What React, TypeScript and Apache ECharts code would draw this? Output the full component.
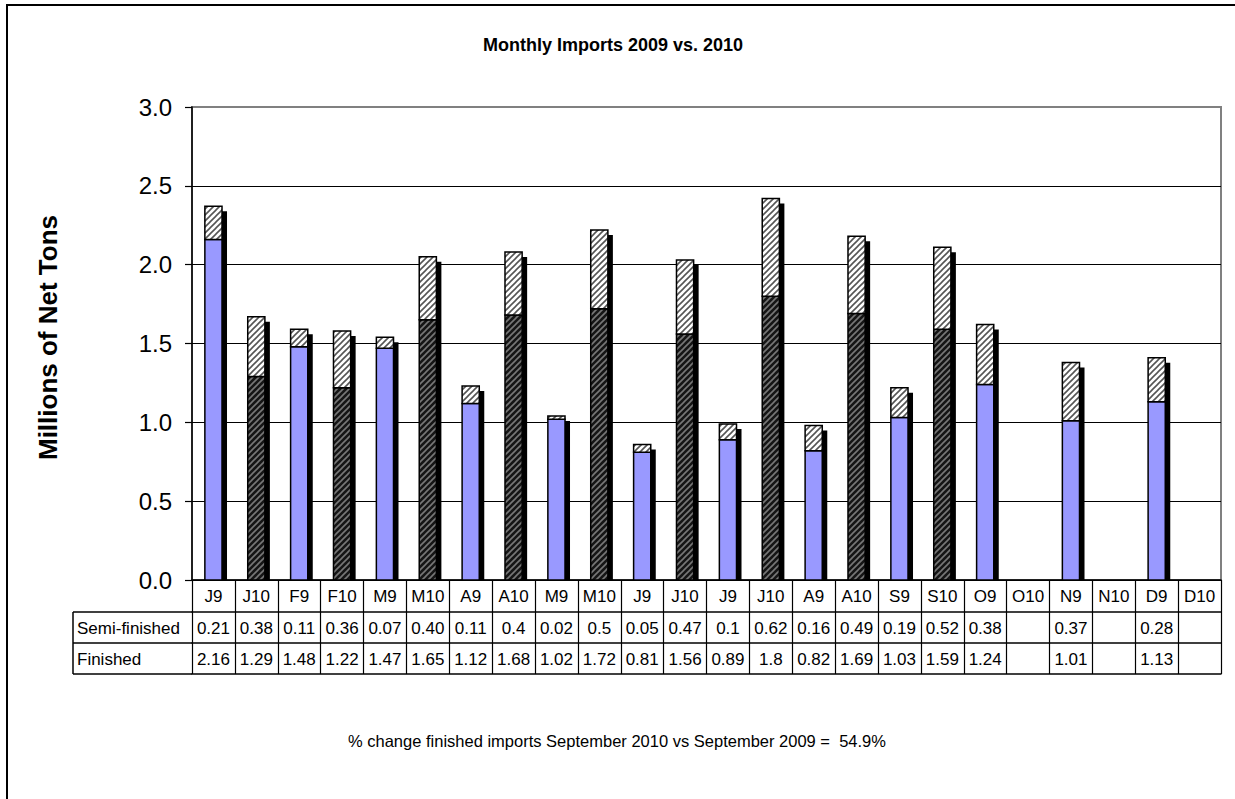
import React, { useEffect, useRef } from "react";
import * as echarts from "echarts";

const categories = ["J9","J10","F9","F10","M9","M10","A9","A10","M9","M10","J9","J10","J9","J10","A9","A10","S9","S10","O9","O10","N9","N10","D9","D10"];
const semiFinished: (number | null)[] = [0.21,0.38,0.11,0.36,0.07,0.40,0.11,0.4,0.02,0.5,0.05,0.47,0.1,0.62,0.16,0.49,0.19,0.52,0.38,null,0.37,null,0.28,null];
const semiLabels = ["0.21","0.38","0.11","0.36","0.07","0.40","0.11","0.4","0.02","0.5","0.05","0.47","0.1","0.62","0.16","0.49","0.19","0.52","0.38","","0.37","","0.28",""];
const finished: (number | null)[] = [2.16,1.29,1.48,1.22,1.47,1.65,1.12,1.68,1.02,1.72,0.81,1.56,0.89,1.8,0.82,1.69,1.03,1.59,1.24,null,1.01,null,1.13,null];
const finishedLabels = ["2.16","1.29","1.48","1.22","1.47","1.65","1.12","1.68","1.02","1.72","0.81","1.56","0.89","1.8","0.82","1.69","1.03","1.59","1.24","","1.01","","1.13",""];
const is2010 = categories.map((c) => (c.endsWith("10") ? 1 : 0));

const FONT = "'Liberation Sans', Arial, sans-serif";

function hatch(bg: string, fg: string) {
  const s = 6;
  const svg = `<svg xmlns="http://www.w3.org/2000/svg" width="${s}" height="${s}"><rect width="${s}" height="${s}" fill="${bg}"/><path d="M-1,${s + 1} L${s + 1},-1 M-1,1 L1,-1 M${s - 1},${s + 1} L${s + 1},${s - 1}" stroke="${fg}" stroke-width="1.6"/></svg>`;
  return {
    image: "data:image/svg+xml;charset=utf-8," + encodeURIComponent(svg),
    repeat: "repeat",
    imageWidth: s,
    imageHeight: s,
  };
}

export default function App() {
  const ref = useRef<HTMLDivElement>(null);
  useEffect(() => {
    if (!ref.current) return;
    const chart = echarts.init(ref.current, null, { renderer: "svg" });
    const semiPattern = hatch("#ffffff", "#555555");
    const darkPattern = hatch("#151515", "#777777");
    const data = categories.map((_, i) => [i, finished[i], semiFinished[i], is2010[i]]);

    const tableAxis = (labels: string[], offset: number, showTick: boolean) => ({
      type: "category",
      gridIndex: 0,
      position: "bottom",
      offset,
      data: labels,
      boundaryGap: true,
      axisLine: { show: true, lineStyle: { color: "#000", width: 1.5 } },
      axisTick: { show: showTick, interval: 0, length: 31, inside: false, lineStyle: { color: "#000", width: 1.2 } },
      axisLabel: { show: showTick, interval: 0, margin: 8, fontSize: 17, color: "#000", fontFamily: FONT },
    });

    chart.setOption({
      animation: false,
      backgroundColor: "#fff",
      title: {
        text: "Monthly Imports 2009 vs. 2010",
        left: 483,
        top: 36,
        padding: 0,
        textStyle: { fontSize: 18, fontWeight: "bold", color: "#000", fontFamily: FONT },
      },
      grid: {
        left: 192,
        top: 107,
        right: 14,
        bottom: 219,
        show: true,
        borderColor: "#808080",
        borderWidth: 2,
        backgroundColor: "transparent",
      },
      xAxis: [
        {
          type: "category",
          gridIndex: 0,
          position: "bottom",
          data: categories,
          boundaryGap: true,
          axisLine: { show: true, lineStyle: { color: "#000", width: 1.5 } },
          axisTick: { show: true, interval: 0, length: 32, inside: false, lineStyle: { color: "#000", width: 1.2 } },
          axisLabel: { interval: 0, margin: 8, fontSize: 17, color: "#000", fontFamily: FONT },
        },
        tableAxis(semiLabels, 32, true),
        tableAxis(finishedLabels, 63, true),
        tableAxis(categories.map(() => ""), 94, false),
      ],
      yAxis: {
        type: "value",
        min: 0,
        max: 3,
        interval: 0.5,
        name: "Millions of Net Tons",
        nameLocation: "middle",
        nameGap: 131,
        nameTextStyle: { fontSize: 26, fontWeight: "bold", color: "#000", fontFamily: FONT, padding: [0, 0, 0, 12] },
        axisLine: { show: true, lineStyle: { color: "#000", width: 1.5 } },
        axisTick: { show: true, length: 7, lineStyle: { color: "#000", width: 1.2 } },
        axisLabel: { margin: 20, fontSize: 24, color: "#000", fontFamily: FONT, formatter: (v: number) => v.toFixed(1) },
        splitLine: { show: true, lineStyle: { color: ["#000", "#000", "#000", "#000", "#000", "#000", "#808080"], width: 1.2 } },
      },
      series: [
        {
          type: "custom",
          xAxisIndex: 0,
          yAxisIndex: 0,
          encode: { x: 0, y: 1 },
          data,
          renderItem: (params: any, api: any) => {
            const i = api.value(0);
            const fin = api.value(1);
            const semi = api.value(2);
            const yr = api.value(3);
            if (fin == null || isNaN(fin)) return null;
            const base = api.coord([i, 0]);
            const pFin = api.coord([i, fin]);
            const pTot = api.coord([i, fin + (isNaN(semi) ? 0 : semi)]);
            const w = api.size([1, 0])[0] * 0.4;
            const x = base[0] - w / 2;
            const off = 5;
            return {
              type: "group",
              children: [
                {
                  type: "rect",
                  shape: { x: x + off, y: pTot[1] + off, width: w, height: Math.max(0, base[1] - pTot[1] - off) },
                  style: { fill: "#000" },
                },
                {
                  type: "rect",
                  shape: { x, y: pFin[1], width: w, height: base[1] - pFin[1] },
                  style: { fill: yr ? (darkPattern as any) : "#9999ff", stroke: "#000", lineWidth: 1.5 },
                },
                {
                  type: "rect",
                  shape: { x, y: pTot[1], width: w, height: pFin[1] - pTot[1] },
                  style: { fill: semiPattern as any, stroke: "#000", lineWidth: 1.5 },
                },
              ],
            };
          },
        },
      ],
      graphic: [
        {
          type: "rect",
          shape: { x: 7, y: 5, width: 1300, height: 900 },
          style: { fill: "none", stroke: "#000", lineWidth: 2 },
          silent: true,
        },
        { type: "line", shape: { x1: 73, y1: 612, x2: 192, y2: 612 }, style: { stroke: "#000", lineWidth: 1.5 } },
        { type: "line", shape: { x1: 73, y1: 643, x2: 192, y2: 643 }, style: { stroke: "#000", lineWidth: 1.5 } },
        { type: "line", shape: { x1: 73, y1: 674, x2: 192, y2: 674 }, style: { stroke: "#000", lineWidth: 1.5 } },
        { type: "line", shape: { x1: 73, y1: 612, x2: 73, y2: 674 }, style: { stroke: "#000", lineWidth: 1.5 } },
        {
          type: "text",
          x: 77,
          y: 628,
          style: { text: "Semi-finished", fontSize: 17, fill: "#000", fontFamily: FONT, verticalAlign: "middle" },
        },
        {
          type: "text",
          x: 77,
          y: 659,
          style: { text: "Finished", fontSize: 17, fill: "#000", fontFamily: FONT, verticalAlign: "middle" },
        },
        {
          type: "text",
          x: 348,
          y: 741,
          style: {
            text: "% change finished imports September 2010 vs September 2009 =  54.9%",
            fontSize: 16.5,
            fill: "#000",
            fontFamily: FONT,
            verticalAlign: "middle",
          },
        },
      ],
    });
    return () => chart.dispose();
  }, []);
  return <div ref={ref} style={{ position: "absolute", left: 0, top: 0, width: 1235, height: 799 }} />;
}
